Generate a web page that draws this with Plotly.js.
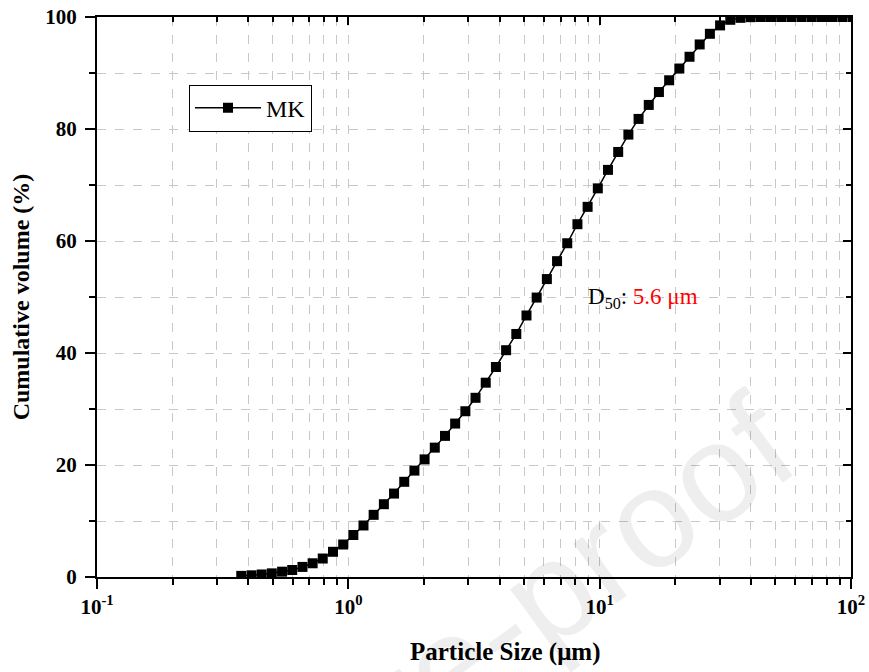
<!DOCTYPE html>
<html><head><meta charset="utf-8">
<script src="https://cdn.plot.ly/plotly-3.0.1.min.js"></script>
<style>html,body{margin:0;padding:0;background:#fff}</style>
</head><body><div id="chart" style="width:869px;height:672px"></div>
<script>
const particleSize = [0.375, 0.412, 0.452, 0.496, 0.545, 0.598, 0.657, 0.721, 0.791, 0.869,
  0.954, 1.047, 1.149, 1.261, 1.385, 1.520, 1.669, 1.832, 2.011, 2.208,
  2.424, 2.661, 2.922, 3.207, 3.521, 3.866, 4.244, 4.659, 5.115, 5.615,
  6.165, 6.768, 7.430, 8.157, 8.955, 9.831, 10.79, 11.85, 13.01, 14.28,
  15.68, 17.21, 18.90, 20.75, 22.78, 25.00, 27.45, 30.14, 33.09, 36.32,
  39.88, 43.78, 48.06, 52.77, 57.93, 63.60, 69.82, 76.65, 84.15, 92.39, 101.4];
const cumulativeVolume = [0.2, 0.3, 0.45, 0.65, 0.95, 1.25, 1.8, 2.45, 3.3, 4.5,
  5.8, 7.5, 9.2, 11.1, 13.0, 14.9, 17.0, 19.0, 21.0, 23.1,
  25.2, 27.4, 29.6, 32.0, 34.7, 37.5, 40.5, 43.4, 46.7, 49.9,
  53.2, 56.4, 59.6, 63.0, 66.1, 69.4, 72.7, 75.9, 79.0, 81.8,
  84.3, 86.6, 88.7, 90.8, 92.9, 95.1, 97.0, 98.5, 99.5, 99.85,
  99.97, 100, 100, 100, 100, 100, 100, 100, 100, 100, 100];
const seriesName = 'MK';
const xTickVals = [0.1, 1, 10, 100];
const xTickText = ['10<sup>-1</sup>', '10<sup>0</sup>', '10<sup>1</sup>', '10<sup>2</sup>'];
const xMinorVals = [0.2,0.3,0.4,0.5,0.6,0.7,0.8,0.9, 2,3,4,5,6,7,8,9, 20,30,40,50,60,70,80,90];
const yTickVals = [0, 20, 40, 60, 80, 100];
const xTitle = 'Particle Size (μm)';
const yTitle = 'Cumulative volume (%)';
const d50Label = 'D<sub>50</sub>: <span style="color:#ff0000">5.6 μm</span>';
const watermark = 'Journal Pre-proof';

const serif = 'Liberation Serif';
const gridC = '#c8c8c8';

const main = {
  x: particleSize, y: cumulativeVolume, name: seriesName,
  type: 'scatter', mode: 'lines+markers',
  line: {color: '#000', width: 1.5},
  marker: {symbol: 'square', size: 10, color: '#000'},
  hoverinfo: 'x+y'
};
const dummy = {x: [], y: [], xaxis: 'x2', yaxis: 'y2', showlegend: false, hoverinfo: 'skip', type: 'scatter'};

const commonAxis = {
  showline: true, linecolor: '#000', linewidth: 2,
  ticks: 'outside', tickcolor: '#000', tickwidth: 2,
  gridcolor: gridC, griddash: 'dash', gridwidth: 1,
  zeroline: false,
  tickfont: {family: serif, size: 21, color: '#000', weight: 700}
};

const layout = {
  width: 869, height: 672,
  margin: {l: 97, r: 18, t: 17, b: 95},
  paper_bgcolor: '#fff', plot_bgcolor: '#fff',
  showlegend: true,
  legend: {
    x: 0.122, y: 0.879, xanchor: 'left', yanchor: 'top',
    bordercolor: '#000', borderwidth: 1, bgcolor: '#fff',
    font: {family: serif, size: 24, color: '#000'},
    itemwidth: 66
  },
  xaxis: Object.assign({}, commonAxis, {
    type: 'log', range: [-1, 2], autorange: false,
    tickmode: 'array', tickvals: xTickVals, ticktext: xTickText, ticklen: 10,
    showgrid: true,
    minor: {tickmode: 'array', tickvals: xMinorVals, ticks: 'outside', ticklen: 6,
            tickcolor: '#000', tickwidth: 2, showgrid: true, gridcolor: gridC, griddash: 'dash', gridwidth: 1}
  }),
  yaxis: Object.assign({}, commonAxis, {
    range: [0, 100], autorange: false,
    tickmode: 'array', tickvals: yTickVals, ticklen: 10, ticklabelstandoff: 4,
    showgrid: true,
    minor: {dtick: 10, ticks: 'outside', ticklen: 6, tickcolor: '#000', tickwidth: 2,
            showgrid: true, gridcolor: gridC, griddash: 'dash', gridwidth: 1},
    title: {text: yTitle, font: {family: serif, size: 24, color: '#000', weight: 700}, standoff: 9}
  }),
  xaxis2: {
    type: 'log', range: [-1, 2], autorange: false, overlaying: 'x', side: 'top', anchor: 'y2',
    showline: true, linecolor: '#000', linewidth: 2, ticks: 'inside', ticklen: 8, tickwidth: 2, tickcolor: '#000',
    tickmode: 'array', tickvals: xTickVals, showticklabels: false, showgrid: false, zeroline: false,
    minor: {tickmode: 'array', tickvals: xMinorVals, ticks: 'inside', ticklen: 5, tickwidth: 2, tickcolor: '#000', showgrid: false}
  },
  yaxis2: {
    range: [0, 100], autorange: false, overlaying: 'y', side: 'right', anchor: 'x2',
    showline: true, linecolor: '#000', linewidth: 2, ticks: 'inside', ticklen: 8, tickwidth: 2, tickcolor: '#000',
    tickmode: 'array', tickvals: yTickVals, showticklabels: false, showgrid: false, zeroline: false,
    minor: {dtick: 10, ticks: 'inside', ticklen: 5, tickwidth: 2, tickcolor: '#000', showgrid: false}
  },
  annotations: [
    {xref: 'paper', yref: 'paper', x: 0.541, y: -0.134, xanchor: 'center', yanchor: 'middle',
     text: xTitle, showarrow: false, font: {family: serif, size: 25, color: '#000', weight: 700}},
    {xref: 'paper', yref: 'paper', x: 0.648, y: 0.498, xanchor: 'left', yanchor: 'middle',
     text: d50Label, showarrow: false, font: {family: serif, size: 23, color: '#000'}},
    {xref: 'paper', yref: 'paper', x: 0.32, y: -0.30, xanchor: 'center', yanchor: 'middle',
     text: watermark, textangle: -36, showarrow: false,
     font: {family: 'Liberation Sans', size: 140, color: 'rgba(0,0,0,0.065)'}}
  ]
};

Plotly.newPlot('chart', [main, dummy], layout, {displayModeBar: false, staticPlot: true});
</script></body></html>
